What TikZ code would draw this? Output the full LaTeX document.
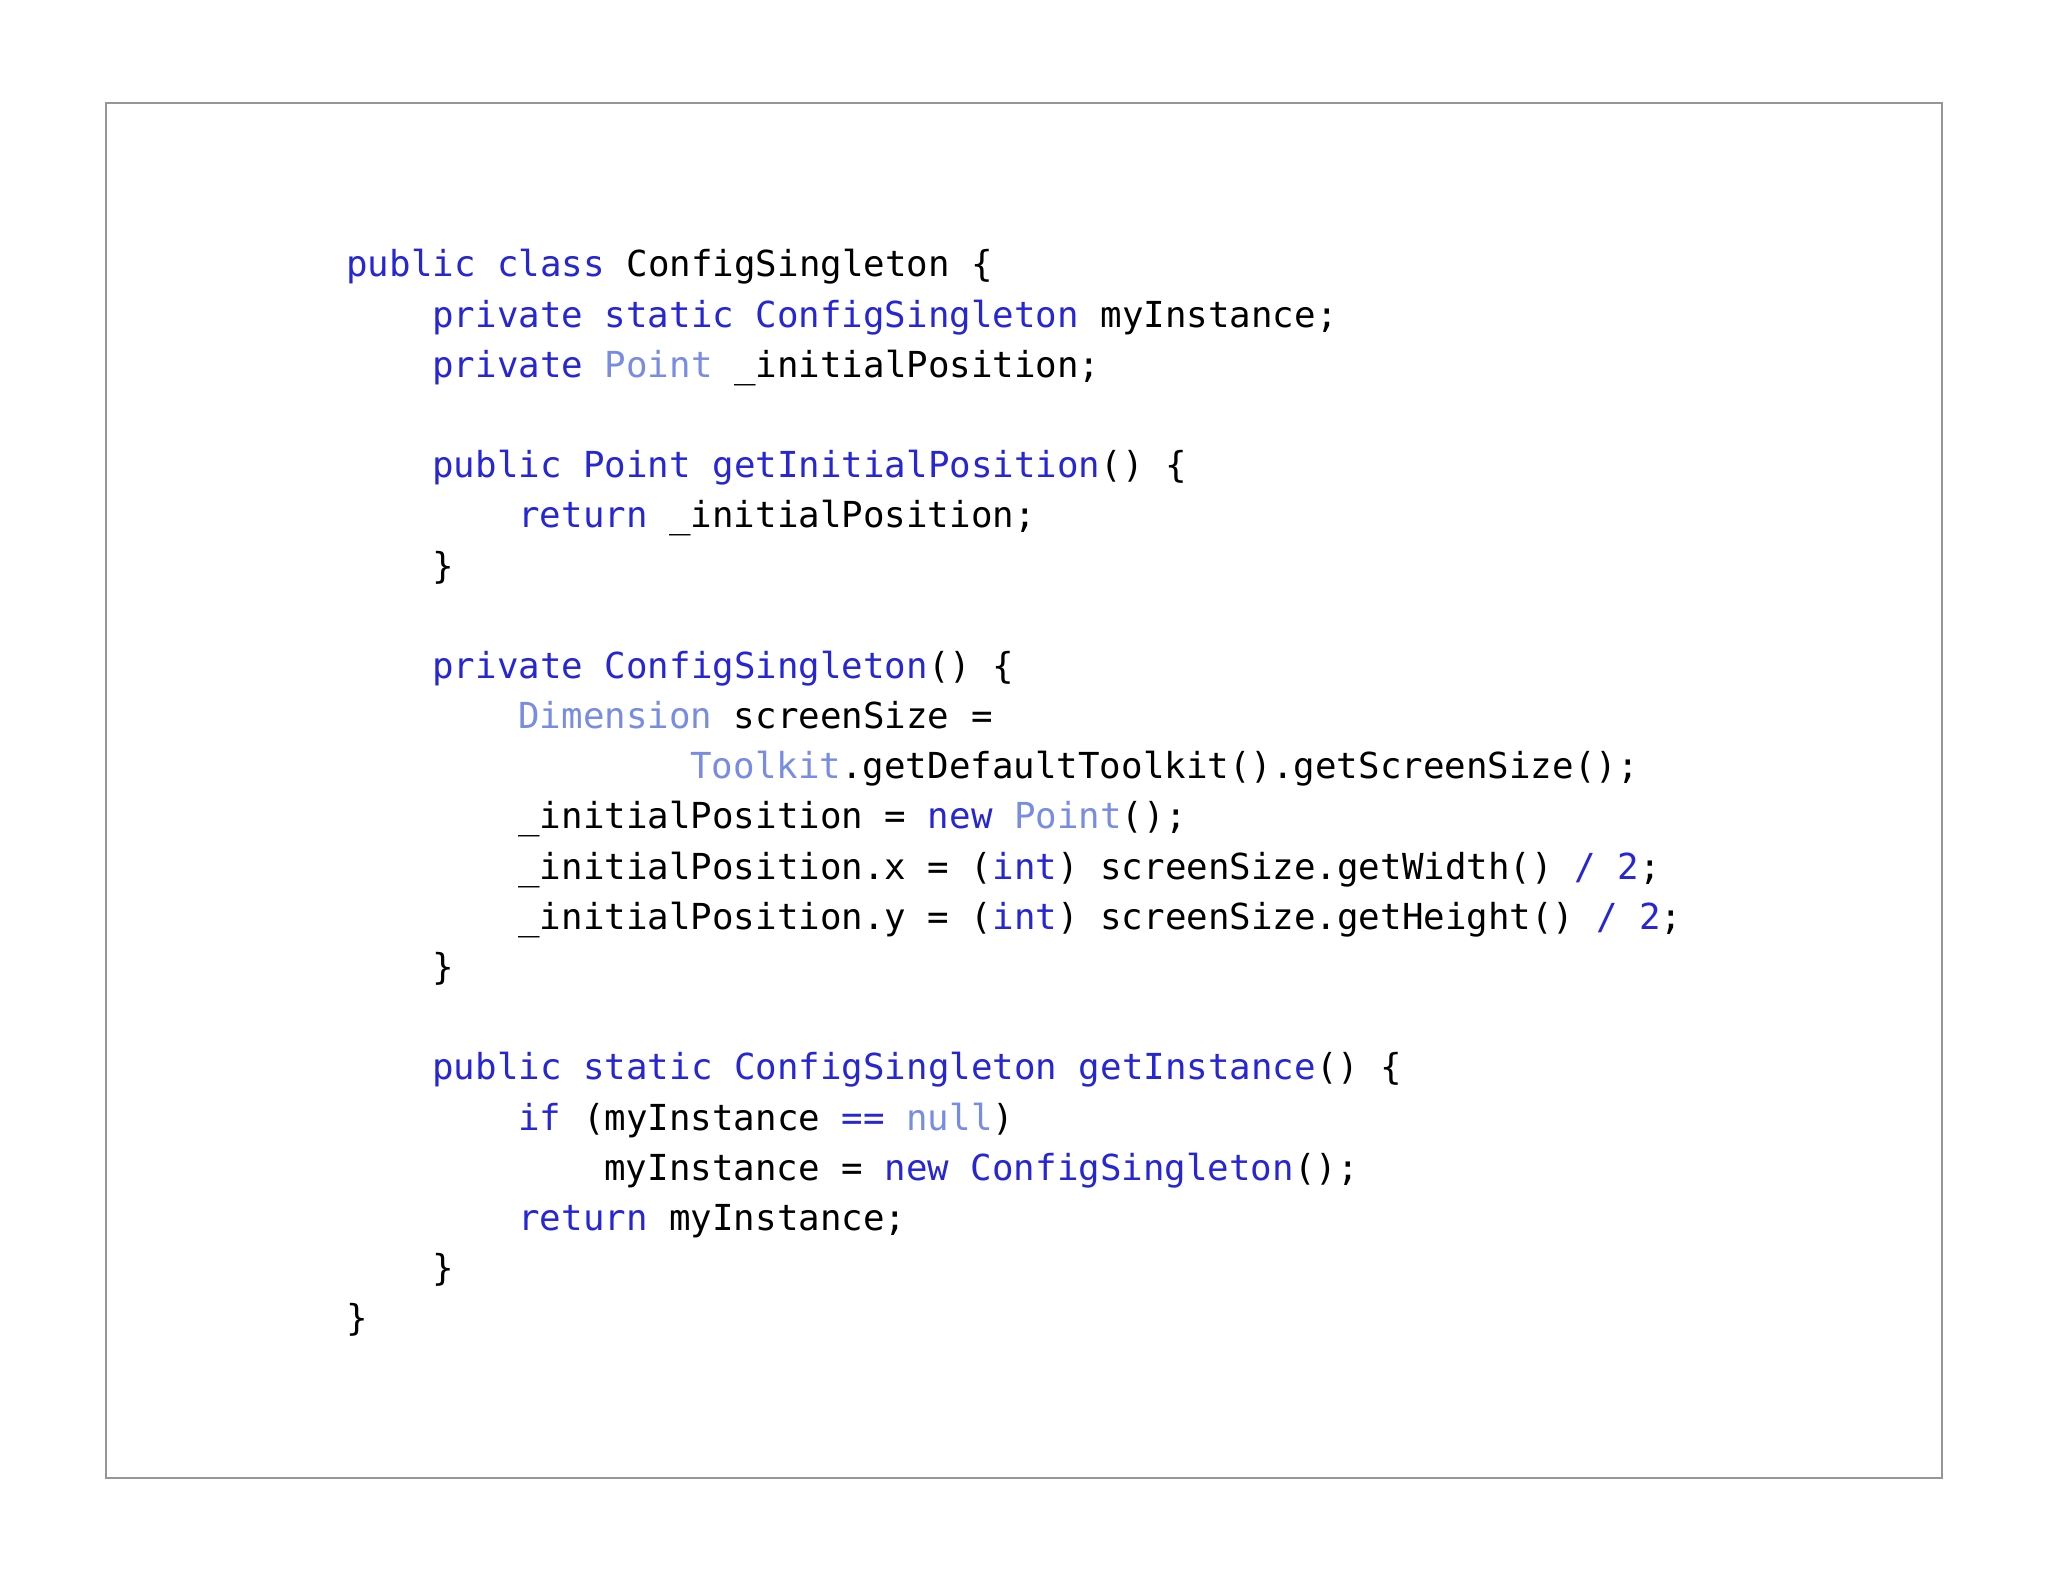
\documentclass[tikz,border=0pt]{standalone}
\usepackage{fontspec}
\setmonofont{DejaVu Sans Mono}
\definecolor{kwc}{RGB}{38,38,214}
\definecolor{tyc}{RGB}{120,140,228}
\definecolor{framec}{RGB}{150,150,150}
\newcommand{\kw}[1]{\textcolor{kwc}{#1}}
\newcommand{\ty}[1]{\textcolor{tyc}{#1}}
\tikzset{codeline/.style={anchor=base west,inner sep=0pt,font=\ttfamily\fontsize{17.9}{25}\selectfont}}
\begin{document}
\begin{tikzpicture}[x=1pt,y=1pt]
\useasboundingbox (0,0) rectangle (1024,-791);
\draw[framec,line width=0.6pt] (53,-51.5) rectangle (971,-739);
\def\cw{10.75}
\def\ls{25.09}
\newcommand{\cl}[4]{\node[codeline] (#1) at (173+#3*\cw,-138.5-#2*\ls) {#4};}
\cl{l0}{0}{0}{\kw{public class} ConfigSingleton \{}
\cl{l1}{1}{4}{\kw{private static ConfigSingleton} myInstance;}
\cl{l2}{2}{4}{\kw{private} \ty{Point} \_initialPosition;}
\cl{l4}{4}{4}{\kw{public Point getInitialPosition}() \{}
\cl{l5}{5}{8}{\kw{return} \_initialPosition;}
\cl{l6}{6}{4}{\}}
\cl{l8}{8}{4}{\kw{private ConfigSingleton}() \{}
\cl{l9}{9}{8}{\ty{Dimension} screenSize =}
\cl{l10}{10}{16}{\ty{Toolkit}.getDefaultToolkit().getScreenSize();}
\cl{l11}{11}{8}{\_initialPosition = \kw{new} \ty{Point}();}
\cl{l12}{12}{8}{\_initialPosition.x = (\kw{int}) screenSize.getWidth() \kw{/ 2};}
\cl{l13}{13}{8}{\_initialPosition.y = (\kw{int}) screenSize.getHeight() \kw{/ 2};}
\cl{l14}{14}{4}{\}}
\cl{l16}{16}{4}{\kw{public static ConfigSingleton getInstance}() \{}
\cl{l17}{17}{8}{\kw{if} (myInstance \kw{==} \ty{null})}
\cl{l18}{18}{12}{myInstance = \kw{new ConfigSingleton}();}
\cl{l19}{19}{8}{\kw{return} myInstance;}
\cl{l20}{20}{4}{\}}
\cl{l21}{21}{0}{\}}
\end{tikzpicture}
\end{document}
